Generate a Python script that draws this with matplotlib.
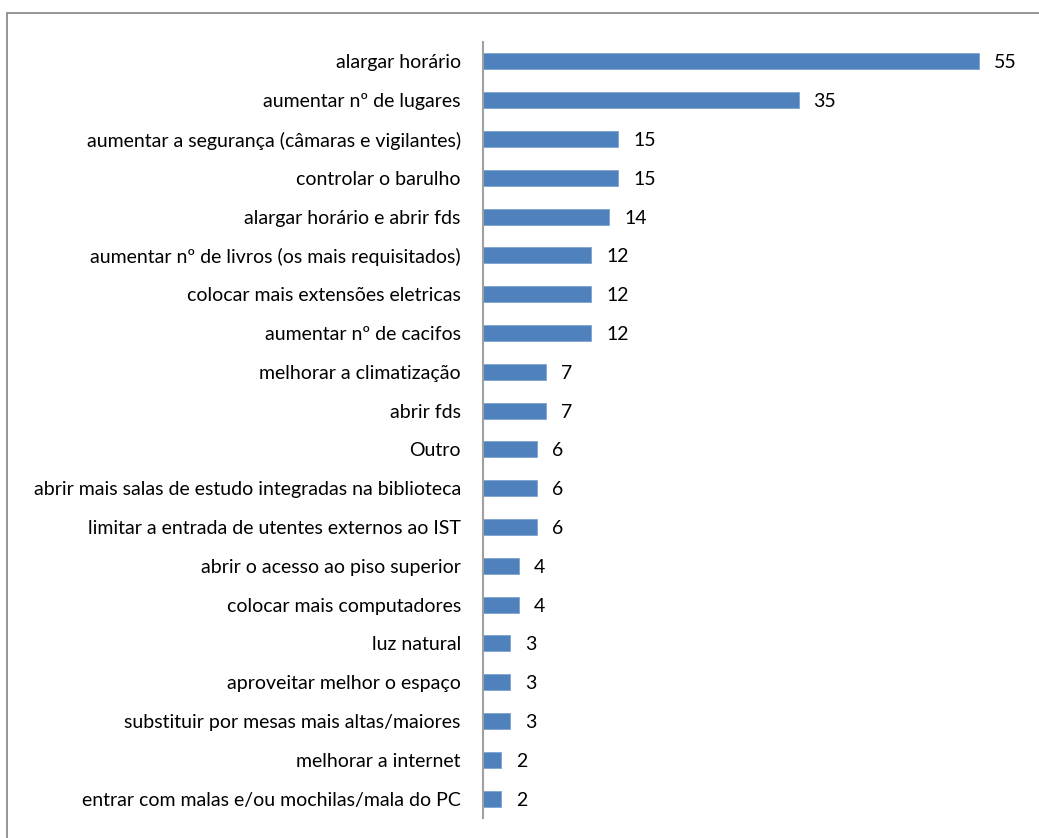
import matplotlib
matplotlib.use("Agg")
import matplotlib.pyplot as plt
from matplotlib.patches import Rectangle

categories = [
    "alargar horário",
    "aumentar nº de lugares",
    "aumentar a segurança (câmaras e vigilantes)",
    "controlar o barulho",
    "alargar horário e abrir fds",
    "aumentar nº de livros (os mais requisitados)",
    "colocar mais extensões eletricas",
    "aumentar nº de cacifos",
    "melhorar a climatização",
    "abrir fds",
    "Outro",
    "abrir mais salas de estudo integradas na biblioteca",
    "limitar a entrada de utentes externos ao IST",
    "abrir o acesso ao piso superior",
    "colocar mais computadores",
    "luz natural",
    "aproveitar melhor o espaço",
    "substituir por mesas mais altas/maiores",
    "melhorar a internet",
    "entrar com malas e/ou mochilas/mala do PC",
]
values = [55, 35, 15, 15, 14, 12, 12, 12, 7, 7, 6, 6, 6, 4, 4, 3, 3, 3, 2, 2]

plt.rcParams['font.family'] = ['Lato', 'DejaVu Sans']
W, H = 1039, 838
fig = plt.figure(figsize=(W / 100, H / 100), dpi=100)
fig.patches.append(Rectangle((7 / W, -0.1), 1.2, 1 - 13 / H + 0.1, transform=fig.transFigure,
                             fill=False, edgecolor='#8c8c8c', linewidth=1.3))
ax = fig.add_axes([483 / W, 1 - 818 / H, (1024 - 483) / W, (818 - 42) / H])

ypos = list(range(len(categories)))
ax.barh(ypos, values, height=0.41, color='#4F81BD', edgecolor='#7FA3D3', linewidth=0.6)
ax.set_ylim(len(categories) - 0.5, -0.5)
ax.set_xlim(0, 60)
ax.set_yticks(ypos)
ax.set_yticklabels(categories, fontsize=14, color='black', va='center_baseline')
ax.tick_params(axis='y', length=0, pad=16)
ax.set_xticks([])
for s in ['top', 'right', 'bottom']:
    ax.spines[s].set_visible(False)
ax.spines['left'].set_color('#a0a0a0')
ax.spines['left'].set_linewidth(1.5)
for y, v in zip(ypos, values):
    ax.annotate(str(v), (v, y), xytext=(15, 0), textcoords='offset pixels',
                va='center_baseline', ha='left', fontsize=14, color='black')
fig.savefig('out.png', dpi=100)
